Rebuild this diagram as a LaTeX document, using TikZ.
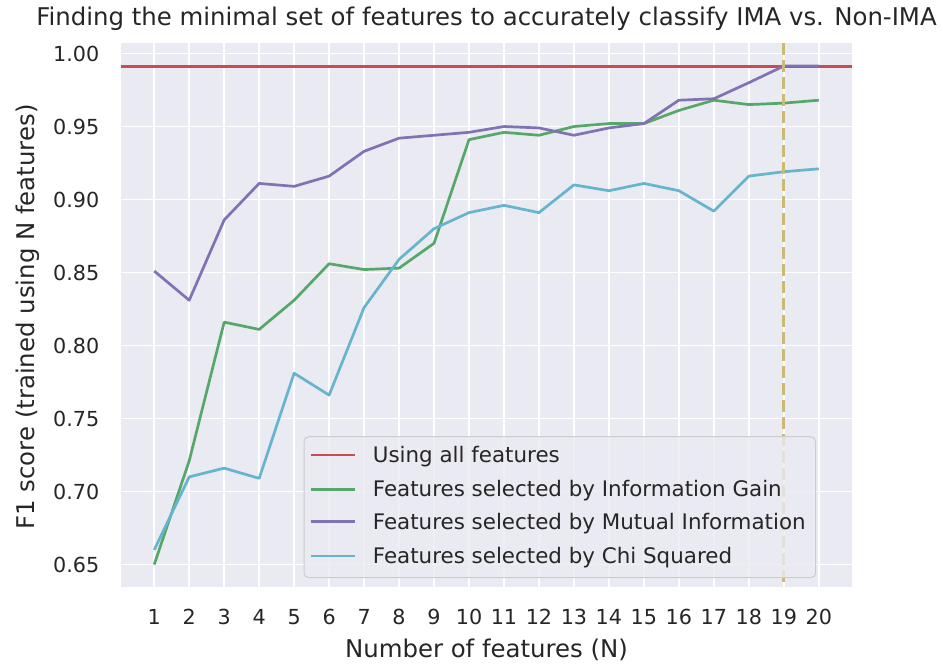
\documentclass[tikz,border=0pt]{standalone}
\usepackage{fontspec}
\setmainfont{DejaVu Sans}
\definecolor{lnred}{HTML}{C44E52}
\definecolor{lngreen}{HTML}{55A868}
\definecolor{lnpurple}{HTML}{8172B3}
\definecolor{lncyan}{HTML}{64B5CD}
\definecolor{lngold}{HTML}{CCB974}
\definecolor{axbg}{HTML}{EAEAF2}
\definecolor{txt}{HTML}{262626}
\definecolor{legedge}{HTML}{CCCCCC}
\begin{document}
\begin{tikzpicture}[x=1pt,y=1pt,
  ticklab/.style={font=\fontsize{20.7}{24}\selectfont, text=txt, inner sep=0pt},
  biglab/.style={font=\fontsize{24.4}{29}\selectfont, text=txt, inner sep=0pt},
  leglab/.style={font=\fontsize{21.4}{25}\selectfont, text=txt, inner sep=0pt, anchor=base west},
  gridline/.style={white, line width=1.8pt},
  allfeat/.style={draw=lnred, line width=2.9pt, line join=round},
  igain/.style={draw=lngreen, line width=2.7pt, line join=round},
  minfo/.style={draw=lnpurple, line width=2.7pt, line join=round},
  chisq/.style={draw=lncyan, line width=2.7pt, line join=round},
  vmark/.style={draw=lngold, line width=2.7pt, dash pattern=on 12pt off 5pt}]
\fill[white] (0,0) rectangle (943,664);
\useasboundingbox (0,0) rectangle (943,664);
\begin{scope}[x=34.976pt, y=1460pt, xshift=119.25pt, yshift=-849.5pt]
  \fill[axbg] (0.05,0.6346) rectangle (20.95,1.0072);
  \foreach \n in {1,...,20} {
    \draw[gridline] (\n,0.6346) -- (\n,1.0072);
    \node[ticklab] (xt\n) at (\n,0.6142) {\n};
  }
  \foreach \v/\lab in {0.65/0.65,0.70/0.70,0.75/0.75,0.80/0.80,0.85/0.85,0.90/0.90,0.95/0.95,1.00/1.00} {
    \draw[gridline] (0.05,\v) -- (20.95,\v);
    \node[ticklab, anchor=east, xshift=-21.5pt] (yt\lab) at (0.05,\v) {\lab};
  }
  % series
  \path[allfeat] (0.05,0.9914) -- (20.95,0.9914);
  \path[igain] plot coordinates {(1,0.650) (2,0.721) (3,0.816) (4,0.811) (5,0.831) (6,0.856) (7,0.852) (8,0.853) (9,0.870) (10,0.941) (11,0.946) (12,0.944) (13,0.950) (14,0.952) (15,0.952) (16,0.961) (17,0.968) (18,0.965) (19,0.966) (20,0.968)};
  \path[minfo] plot coordinates {(1,0.851) (2,0.831) (3,0.886) (4,0.911) (5,0.909) (6,0.916) (7,0.933) (8,0.942) (9,0.944) (10,0.946) (11,0.950) (12,0.949) (13,0.944) (14,0.949) (15,0.952) (16,0.968) (17,0.969) (18,0.980) (19,0.9914) (20,0.9914)};
  \path[chisq] plot coordinates {(1,0.660) (2,0.710) (3,0.716) (4,0.709) (5,0.781) (6,0.766) (7,0.826) (8,0.859) (9,0.880) (10,0.891) (11,0.896) (12,0.891) (13,0.910) (14,0.906) (15,0.911) (16,0.906) (17,0.892) (18,0.916) (19,0.919) (20,0.921)};
  \path[vmark] (19,1.0072) -- (19,0.6346);
\end{scope}
% legend
\draw[legedge, fill=axbg, fill opacity=0.8, line width=1pt, rounded corners=5pt] (304,227.3) rectangle (815.7,86.3);
\path[allfeat] (310.7,209) -- (355,209);
\path[igain] (310.7,174.7) -- (355,174.7);
\path[minfo] (310.7,142.3) -- (355,142.3);
\path[chisq] (310.7,108) -- (355,108);
\node[leglab] (l1) at (372.7,201.3) {Using all features};
\node[leglab] (l2) at (372.7,167.0) {Features selected by Information Gain};
\node[leglab] (l3) at (372.7,134.6) {Features selected by Mutual Information};
\node[leglab] (l4) at (372.7,100.3) {Features selected by Chi Squared};
% titles
\node[biglab, anchor=base] (title) at (486.5,638) {Finding the minimal set of features to accurately classify IMA vs. Non-IMA};
\node[biglab, anchor=base] (xlab) at (486.5,6) {Number of features (N)};
\node[biglab, anchor=base, rotate=90] (ylab) at (35,347) {F1 score (trained using N features)};
\end{tikzpicture}
\end{document}
